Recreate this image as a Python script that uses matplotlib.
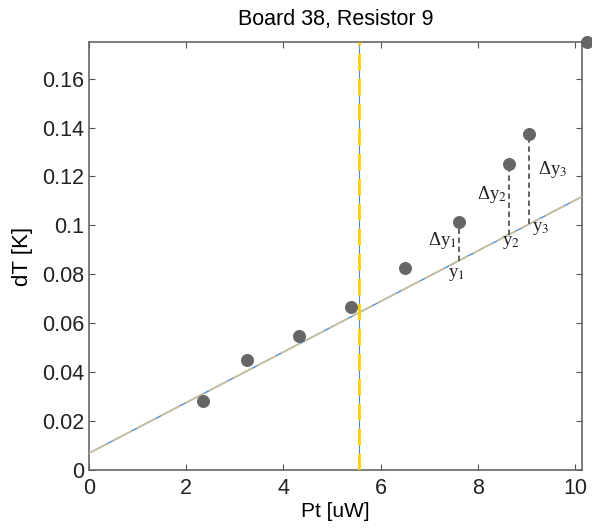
import matplotlib
matplotlib.use('Agg')
import matplotlib.pyplot as plt
import numpy as np

plt.rcParams['font.family'] = ['Liberation Sans', 'DejaVu Sans']
plt.rcParams['mathtext.fontset'] = 'stix'

# measured points
pt = [2.35, 3.25, 4.32, 5.39, 6.5, 7.61, 8.64, 9.05, 10.25]
dT = [0.0282, 0.045, 0.0548, 0.0667, 0.0827, 0.1015, 0.1252, 0.1375, 0.175]

# fitted line
fit_k = 0.01035
fit_m = 0.0068
x_cut = 5.56

# residual markers
res_idx = [5, 6, 7]

fig = plt.figure(figsize=(5.92, 5.31), dpi=100)
ax = fig.add_axes([0.150, 0.115, 0.833, 0.806])

xx = np.array([0, 10.14])
ax.plot(xx, fit_k*xx + fit_m, color='#4a90d9', lw=1.0, zorder=2)
ax.plot(xx, fit_k*xx + fit_m, color='#cbbf9c', lw=1.3, dashes=(12, 3), zorder=3)

ax.plot([x_cut, x_cut], [0, 0.175], color='#4a90d9', lw=0.8, zorder=2)
ax.plot([x_cut, x_cut], [0, 0.175], color='#ffd000', lw=2, dashes=(6, 3), zorder=3)

ax.scatter(pt, dT, s=70, color='#666666', zorder=5, clip_on=False)

for i in res_idx:
    yl = fit_k*pt[i] + fit_m
    ax.plot([pt[i], pt[i]], [yl, dT[i] - 0.003], color='#555555', lw=1.3,
            ls=(0, (3, 2)), zorder=4)

tf = dict(family='Liberation Serif', fontsize=13.5, color='#222222')
ax.text(7.28, 0.094, '\u0394y$_1$', ha='center', va='center', **tf)
ax.text(7.55, 0.080, 'y$_1$', ha='center', va='center', **tf)
ax.text(8.29, 0.1125, '\u0394y$_2$', ha='center', va='center', **tf)
ax.text(8.68, 0.093, 'y$_2$', ha='center', va='center', **tf)
ax.text(9.53, 0.1228, '\u0394y$_3$', ha='center', va='center', **tf)
ax.text(9.3, 0.0986, 'y$_3$', ha='center', va='center', **tf)

ax.set_xlim(0, 10.14)
ax.set_ylim(0, 0.175)
ax.set_xticks([0, 2, 4, 6, 8, 10])
ax.set_yticks([0, 0.02, 0.04, 0.06, 0.08, 0.1, 0.12, 0.14, 0.16])
ax.set_yticklabels(['0', '0.02', '0.04', '0.06', '0.08', '0.1', '0.12', '0.14', '0.16'])
ax.tick_params(direction='in', top=True, right=True, length=4, labelsize=15.5,
               color='#555555', labelcolor='#222222')
ax.tick_params(axis='x', pad=6)
for s in ax.spines.values():
    s.set_color('#666666')
    s.set_linewidth(1.2)

ax.set_xlabel('Pt [uW]', fontsize=15, labelpad=2)
ax.set_ylabel('dT [K]', fontsize=16, labelpad=6)
ax.set_title('Board 38, Resistor 9', fontsize=15.5, pad=12)

fig.savefig('out.png', dpi=100)
